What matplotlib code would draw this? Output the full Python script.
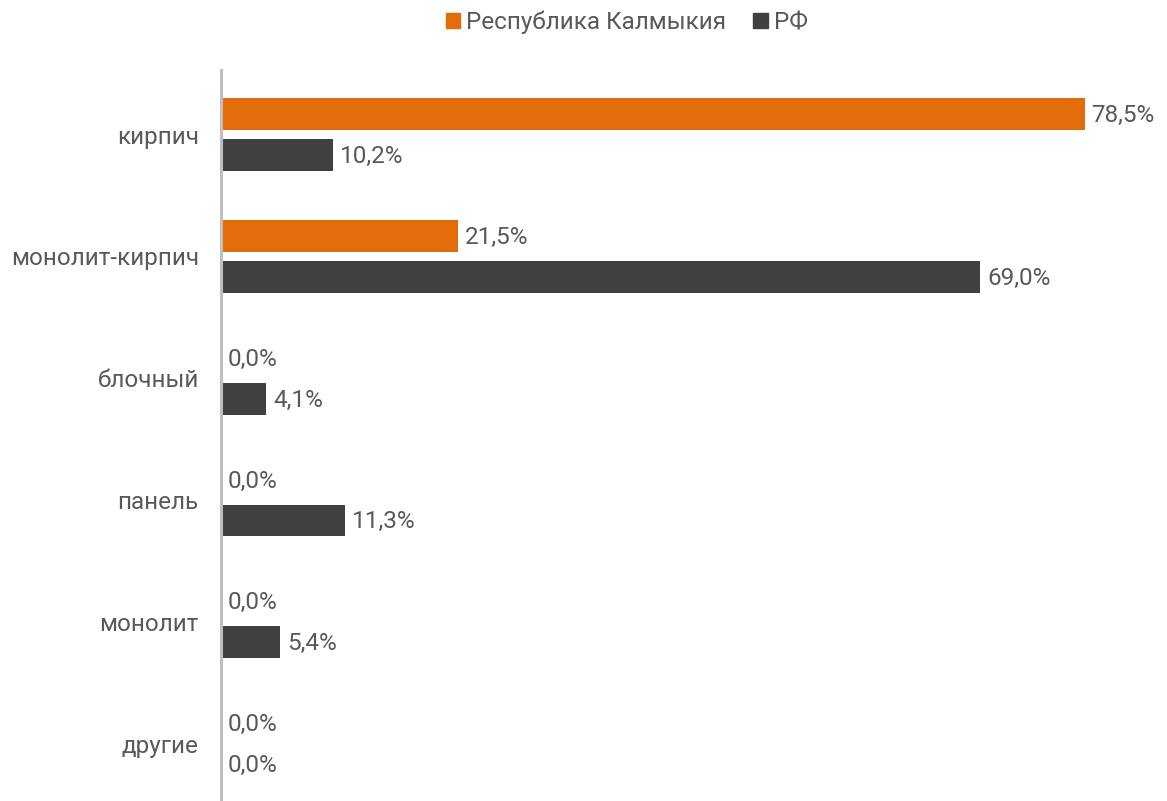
import matplotlib.pyplot as plt
import numpy as np

plt.rcParams['font.family'] = ['Roboto', 'DejaVu Sans']

categories = ['кирпич', 'монолит-кирпич', 'блочный', 'панель', 'монолит', 'другие']
kalmykia = [78.5, 21.5, 0.0, 0.0, 0.0, 0.0]
rf = [10.2, 69.0, 4.1, 11.3, 5.4, 0.0]
series_names = ['Республика Калмыкия', 'РФ']

orange = '#E36C0A'
dark = '#404040'
text_color = '#595959'
fs = 17.5

fig = plt.figure(figsize=(11.67, 8.01), dpi=100)
ax = fig.add_axes([221 / 1167, 0, 946 / 1167, 1 - 70 / 801])

y = np.arange(len(categories))
h = 0.262
off = 0.168

bars1 = ax.barh(y - off, kalmykia, height=h, color=orange, label=series_names[0])
bars2 = ax.barh(y + off, rf, height=h, color=dark, label=series_names[1])

for bars, vals in ((bars1, kalmykia), (bars2, rf)):
    for b, v in zip(bars, vals):
        ax.annotate('{:.1f}%'.format(v).replace('.', ','),
                    (v, b.get_y() + b.get_height() / 2),
                    xytext=(5, -1), textcoords='offset points',
                    ha='left', va='center', fontsize=fs, color=text_color)

ax.set_xlim(0, 946 / 11.0)
ax.set_ylim(5.47, -0.53)
ax.set_yticks(y)
ax.set_yticklabels(categories, fontsize=fs, color=text_color)
ax.tick_params(axis='y', length=0, pad=16)
ax.set_xticks([])
for s in ('top', 'right', 'bottom'):
    ax.spines[s].set_visible(False)
ax.spines['left'].set_color('#BFBFBF')
ax.spines['left'].set_linewidth(2.2)

handles = [plt.Rectangle((0, 0), 1, 1, color=orange),
           plt.Rectangle((0, 0), 1, 1, color=dark)]
fig.legend(handles, series_names, loc='center', bbox_to_anchor=(0.537, 0.972),
           ncol=2, frameon=False, fontsize=fs, handlelength=0.6, handleheight=0.6,
           handletextpad=0.25, columnspacing=1.1, labelcolor=text_color)

fig.savefig('out.png')
